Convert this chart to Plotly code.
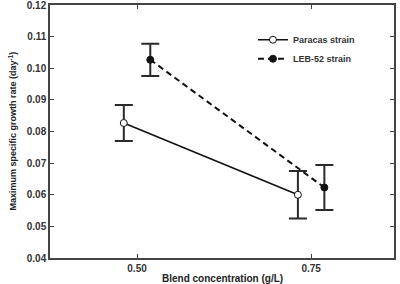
import plotly.graph_objects as go

# Data
series_names = ["Paracas strain", "LEB-52 strain"]
paracas_x = [0.481, 0.731]
paracas_y = [0.0827, 0.0600]
paracas_err = [0.0057, 0.0075]
leb_x = [0.519, 0.769]
leb_y = [0.1027, 0.0623]
leb_err = [0.0051, 0.0071]
x_tickvals = [0.50, 0.75]
x_ticktext = ["0.50", "0.75"]
y_tickvals = [0.04, 0.05, 0.06, 0.07, 0.08, 0.09, 0.10, 0.11, 0.12]
y_ticktext = ["0.04", "0.05", "0.06", "0.07", "0.08", "0.09", "0.10", "0.11", "0.12"]
x_title = "Blend concentration (g/L)"
y_title = "Maximum specific growth rate (day<sup>-1</sup>)"

FONT = "Liberation Sans, Arial, sans-serif"
ERRC = "#2a2a2a"

fig = go.Figure()
fig.add_trace(go.Scatter(
    x=paracas_x, y=paracas_y, name=series_names[0], mode="lines+markers",
    line=dict(color="#111111", width=1.6),
    marker=dict(symbol="circle", size=7, color="white", line=dict(color="#111111", width=1)),
    error_y=dict(type="data", array=paracas_err, visible=True, color=ERRC, thickness=2, width=9),
))
fig.add_trace(go.Scatter(
    x=leb_x, y=leb_y, name=series_names[1], mode="lines+markers",
    line=dict(color="#111111", width=2, dash="6px,4px"),
    marker=dict(symbol="circle", size=7, color="#111111", line=dict(color="#111111", width=1)),
    error_y=dict(type="data", array=leb_err, visible=True, color=ERRC, thickness=2, width=9),
))

axis_common = dict(
    showline=True, linecolor="#444444", linewidth=1.5, mirror="ticks",
    ticks="inside", ticklen=4, tickcolor="#444444", tickwidth=1,
    showgrid=False, zeroline=False, automargin=False, ticklabeloverflow="allow",
    tickfont=dict(family=FONT, size=10, color="#333333", weight="bold"),
)

fig.update_layout(
    width=400, height=284,
    margin=dict(l=50, r=6, t=5, b=26),
    paper_bgcolor="white", plot_bgcolor="white",
    showlegend=True,
    legend=dict(x=0.59, y=0.92, xanchor="left", yanchor="top",
                bgcolor="rgba(0,0,0,0)", itemwidth=30,
                font=dict(family=FONT, size=9, color="#333333", weight="bold")),
    xaxis=dict(range=[0.375, 0.869], tickvals=x_tickvals, ticktext=x_ticktext, **axis_common),
    yaxis=dict(range=[0.04, 0.12002], tickvals=y_tickvals, ticktext=y_ticktext, **axis_common),
    annotations=[
        dict(text=x_title, xref="paper", yref="paper", x=0.5, y=0, xanchor="center",
             yanchor="top", yshift=-13, showarrow=False,
             font=dict(family=FONT, size=10, color="#222222", weight="bold")),
        dict(text=y_title, xref="paper", yref="paper", x=0, y=0.5, xanchor="center",
             yanchor="middle", xshift=-38, textangle=-90, showarrow=False,
             font=dict(family=FONT, size=9, color="#222222", weight="bold")),
    ],
)

fig.write_html("out.html")
